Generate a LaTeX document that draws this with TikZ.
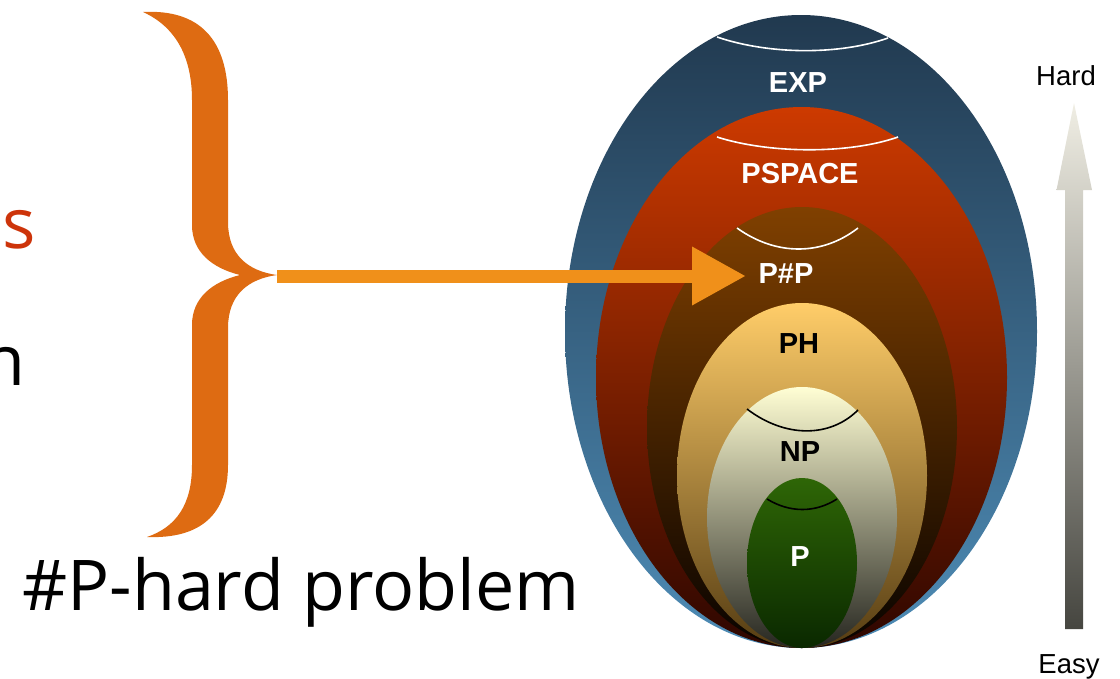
\documentclass[tikz,border=0pt]{standalone}
\usepackage{fontspec}
\newfontfamily\opensans{Open Sans}
\newfontfamily\arialf{Liberation Sans}
\usetikzlibrary{arrows.meta}
\definecolor{braceorange}{RGB}{222,107,18}
\definecolor{arroworange}{RGB}{240,144,26}
\definecolor{redtext}{RGB}{205,52,10}
\definecolor{expTop}{RGB}{33,57,79}
\definecolor{expMid}{RGB}{52,95,125}
\definecolor{expBot}{RGB}{78,140,182}
\definecolor{psTop}{RGB}{205,58,0}
\definecolor{psMid}{RGB}{188,48,0}
\definecolor{psBot}{RGB}{45,6,0}
\definecolor{spTop}{RGB}{128,64,0}
\definecolor{spMid}{RGB}{104,50,0}
\definecolor{spBot}{RGB}{8,3,0}
\definecolor{phTop}{RGB}{255,205,105}
\definecolor{phMid}{RGB}{232,182,94}
\definecolor{phBot}{RGB}{85,60,18}
\definecolor{npTop}{RGB}{255,254,212}
\definecolor{npMid}{RGB}{236,234,194}
\definecolor{npBot}{RGB}{38,38,32}
\definecolor{pTop}{RGB}{46,102,6}
\definecolor{pBot}{RGB}{10,40,0}
\definecolor{harrTop}{RGB}{240,238,228}
\definecolor{harrBot}{RGB}{70,70,64}
\tikzset{
  bigtext/.style={font=\opensans\fontsize{70}{78}\selectfont, inner sep=0pt, anchor=base west},
  classlbl/.style={font=\arialf\bfseries\fontsize{29}{32}\selectfont, inner sep=0pt, anchor=base},
  scalelbl/.style={font=\arialf\fontsize{27.5}{30}\selectfont, inner sep=0pt, anchor=base},
  whitearc/.style={draw=white, line width=1.6pt},
  blackarc/.style={draw=black, line width=1.6pt},
}
\begin{document}
\begin{tikzpicture}[x=1pt,y=-1pt]
\useasboundingbox (0,0) rectangle (1120,678);

% left partial texts
\node[bigtext, anchor=base east, text=redtext] (s) at (36,248) {s};
\node[bigtext, anchor=base east] (n) at (26,385) {n};
\node[bigtext] (hard) at (22,610) {\#P-hard problem};

% brace
\fill[braceorange]
  (143,12) .. controls (200,9) and (228,40) .. (228,100)
  -- (228,222)
  .. controls (228,255) and (248,271) .. (277,275)
  .. controls (248,279) and (228,295) .. (228,328)
  -- (228,465)
  .. controls (228,515) and (200,539) .. (147,537)
  .. controls (176,527) and (192,505) .. (192,465)
  -- (192,325)
  .. controls (192,298) and (212,282) .. (240,275)
  .. controls (212,268) and (192,252) .. (192,225)
  -- (192,100)
  .. controls (192,60) and (178,28) .. (143,12) -- cycle;
\coordinate (bracetip) at (277,276);

% nested classes
\shade[top color=expTop, middle color=expMid, bottom color=expBot]
  (801,331.5) ellipse [x radius=236pt, y radius=316.5pt];
\shade[top color=psTop, middle color=psMid, bottom color=psBot]
  (801.5,377.5) ellipse [x radius=205.5pt, y radius=270.5pt];
\shade[top color=spTop, middle color=spMid, bottom color=spBot]
  (802,427.5) ellipse [x radius=155pt, y radius=220.5pt];
\shade[top color=phTop, middle color=phMid, bottom color=phBot]
  (802,475.5) ellipse [x radius=125pt, y radius=172.5pt];
\shade[top color=npTop, middle color=npMid, bottom color=npBot]
  (802,517.5) ellipse [x radius=95pt, y radius=130.5pt];
\shade[top color=pTop, bottom color=pBot]
  (802,563) ellipse [x radius=55pt, y radius=85pt];

% boundary arcs
\draw[whitearc] (717,37) .. controls (770,55) and (840,55) .. (888,38);
\draw[whitearc] (717,137) .. controls (770,154) and (850,154) .. (898,137);
\draw[whitearc] (737,228) .. controls (776,256) and (822,256) .. (858,228);
\draw[blackarc] (747,409) .. controls (785,438) and (830,438) .. (858,410);
\draw[blackarc] (767,499) .. controls (790,513) and (815,513) .. (837,499);

% labels
\node[classlbl, text=white] (exp) at (798,92) {EXP};
\node[classlbl, text=white] (pspace) at (800,183) {PSPACE};
\node[classlbl, text=white] (psp) at (786,283) {P\#P};
\node[classlbl] (ph) at (799,353) {PH};
\node[classlbl] (np) at (800,461) {NP};
\node[classlbl, text=white] (p) at (800,566) {P};

% orange arrow
\coordinate (arrowtip) at (746,276);
\draw[arroworange, line width=13pt, -{Triangle[length=54pt,width=55pt]}] (bracetip) -- (arrowtip);

% difficulty scale
\node[scalelbl] (hardlbl) at (1066,85) {Hard};
\node[scalelbl] (easylbl) at (1069,673) {Easy};
\coordinate (scaletop) at (1074,103);
\shade[top color=harrTop, bottom color=harrBot]
  (1065,629) -- (1065,190) -- (1056.5,190) -- (scaletop) -- (1092,190)
  -- (1083,190) -- (1083,629) -- cycle;
\end{tikzpicture}
\end{document}
